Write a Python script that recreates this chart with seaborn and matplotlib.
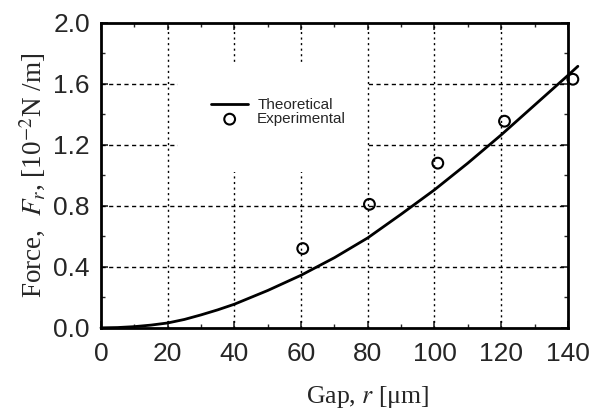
import matplotlib
matplotlib.use("Agg")
import matplotlib.pyplot as plt
import seaborn as sns
import pandas as pd
from matplotlib.patches import Rectangle
from matplotlib.ticker import MultipleLocator

# Data
theory_gap = [0, 5, 10, 15, 20, 25, 30, 35, 40, 50, 60, 70, 80, 90, 100, 110, 120, 130, 140, 143]
theory_force = [0.0, 0.002, 0.008, 0.018, 0.032, 0.055, 0.085, 0.118, 0.155, 0.245, 0.345,
                0.46, 0.59, 0.745, 0.905, 1.08, 1.265, 1.46, 1.655, 1.715]
exp_gap = [60.5, 80.5, 101, 121, 141.5]
exp_force = [0.52, 0.81, 1.08, 1.355, 1.63]
x_ticks = [0, 20, 40, 60, 80, 100, 120, 140]
y_ticks = [0.0, 0.4, 0.8, 1.2, 1.6, 2.0]

theory = pd.DataFrame({"gap": theory_gap, "force": theory_force})
exp = pd.DataFrame({"gap": exp_gap, "force": exp_force})

sns.set_style("ticks")
plt.rcParams["font.family"] = ["Liberation Sans", "DejaVu Sans"]
plt.rcParams["mathtext.fontset"] = "stix"

fig = plt.figure(figsize=(5.94, 4.15), dpi=100)
ax = fig.add_axes([0.170, 0.210, 0.786, 0.735])

# grid
for xv in x_ticks[1:-1]:
    ax.axvline(xv, color="black", lw=1.0, ls=(0, (1.5, 2.5)), zorder=1)
for yv in y_ticks[1:-1]:
    ax.axhline(yv, color="black", lw=1.0, ls=(0, (3, 2.5)), zorder=1)

ax.add_patch(Rectangle((0.165, 0.511), 0.402, 0.358, transform=ax.transAxes,
                       facecolor="white", edgecolor="none", zorder=2))

sns.lineplot(data=theory, x="gap", y="force", ax=ax, color="black", lw=2.0,
             label="Theoretical", zorder=4, clip_on=False)
sns.scatterplot(data=exp, x="gap", y="force", ax=ax, marker="o", s=60,
                facecolor="none", edgecolor="black", linewidth=1.5,
                label="Experimental", zorder=5, clip_on=False)

ax.set_xlim(0, 140)
ax.set_ylim(0, 2.0)
ax.set_xticks(x_ticks)
ax.set_yticks(y_ticks)
ax.set_yticklabels([f"{v:.1f}" for v in y_ticks])
ax.yaxis.set_minor_locator(MultipleLocator(0.2))
ax.xaxis.set_minor_locator(MultipleLocator(10))
ax.tick_params(which="both", direction="in", top=True, right=True)
ax.tick_params(which="major", length=5, width=1.2, labelsize=19)
ax.tick_params(axis="x", which="major", pad=10)
ax.tick_params(axis="y", which="major", pad=8)
ax.tick_params(which="minor", length=3, width=1)
for s in ax.spines.values():
    s.set_linewidth(2)
    s.set_color("black")

ax.set_xlabel("Gap, $r$ [μm]", fontsize=18.5, family="Liberation Serif", labelpad=10)
ax.xaxis.set_label_coords(0.572, -0.185)
ax.set_ylabel(r"Force,  $F_r$, [10$^{-2}$N /m]", fontsize=19.5, family="Liberation Serif", labelpad=4)

leg = ax.legend(loc="upper left", bbox_to_anchor=(0.22, 0.778), frameon=False,
                fontsize=11, handlelength=2.4, labelspacing=0.0, handletextpad=0.6,
                borderpad=0)
leg.set_zorder(6)

fig.savefig("out.png", dpi=100)
